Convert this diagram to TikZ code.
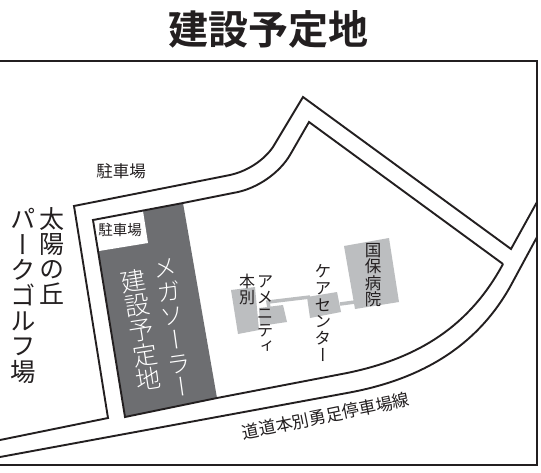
\documentclass[tikz,border=0pt]{standalone}
\usepackage{fontspec}
\newfontfamily\cjk{Noto Sans CJK JP}
\newfontfamily\cjklight{Noto Sans CJK JP Light}
\newfontfamily\cjkbold{Noto Sans CJK JP Bold}
\newfontfamily\cjkv[RawFeature=+vert]{Noto Sans CJK JP}
\newfontfamily\cjkvlight[RawFeature=+vert]{Noto Sans CJK JP Light}
\definecolor{ink}{HTML}{231F20}
\definecolor{site}{HTML}{6D6E71}
\definecolor{bldg}{HTML}{BCBEC0}
\newcommand{\fs}[1]{\fontsize{#1}{#1}\selectfont}
\tikzset{
 road/.style={draw=ink,line width=1.9pt,line join=miter},
 frameline/.style={draw=ink,line width=2.6pt},
 building/.style={fill=bldg,draw=none},
 link/.style={draw=bldg,line width=3.5pt},
 lbl/.style={inner sep=0pt,text=ink,align=center},
}
\begin{document}
\begin{tikzpicture}[x=1pt,y=-1pt]
\useasboundingbox (0,0) rectangle (541,472);
\fill[white] (0,0) rectangle (541,472);
% frame
\draw[frameline] (0,61) -- (537,61) -- (537,465) -- (0,465);
% site
\fill[site] (93,220) -- (183,203) -- (217,398) -- (125,417) -- cycle;
\fill[white] (93,220) -- (143,211) -- (148,243) -- (99,251) -- cycle;
% buildings
\fill[building] (344,246) -- (389,238) -- (399,302) -- (355,309) -- cycle;
\fill[building] (307,297) -- (337,292) -- (341,312) -- (310,318) -- cycle;
\fill[building] (231,290) -- (255,287) -- (259,330) -- (238,334) -- cycle;
\fill[building] (259,308) -- (283,305) -- (287,322) -- (260,326) -- cycle;
\draw[link] (340,304) -- (355,302);
\draw[link] (310,297) -- (268,302) -- (269,308);
% roads
\draw[road] (0,440) -- (108,418) -- (74,206) -- (230,175)
  .. controls (248,171) and (264,160) .. (273,147) -- (303,97) -- (511,249) -- (537,202);
\draw[road] (503,264) -- (309,122) -- (290,155)
  .. controls (280,172) and (258,189) .. (233,193) -- (183,203) -- (93,220) -- (125,417) -- (217,398) -- (347,373)
  .. controls (420,358) and (470,325) .. (503,264);
\draw[road] (0,457) -- (347,393)
  .. controls (430,378) and (480,340) .. (510,287) -- (537,237);
% labels
\node[lbl,font=\cjkbold\fs{40}] (title) at (268,29) {建設予定地};
\node[lbl,font=\cjk\fs{16.5}] (park1) at (121,171) {駐車場};
\node[lbl,font=\cjk\fs{14.5}] (park2) at (120,230) {駐車場};
\node[lbl,font=\cjkv\fs{25}] (taiyo) at (52,256) {太\\陽\\の\\丘};
\node[lbl,font=\cjkv\fs{25.4}] (golf) at (23,296) {パ\\ー\\ク\\ゴ\\ル\\フ\\場};
\node[lbl,text=white,rotate=9,font=\cjkvlight\fs{25}] (kensetsu) at (141,330) {建\\設\\予\\定\\地};
\node[lbl,text=white,rotate=8,font=\cjkvlight\fs{24}] (mega) at (174,328) {メ\\ガ\\ソ\\ー\\ラ\\ー};
\node[lbl,font=\cjkv\fs{16}] (honbetsu) at (247,289) {本\\別};
\node[lbl,font=\cjkv\fs{16.4}] (amenity) at (265,314) {ア\\メ\\ニ\\テ\\ィ};
\node[lbl,font=\cjkv\fs{16.7}] (care) at (323,313) {ケ\\ア\\セ\\ン\\タ\\ー};
\node[lbl,font=\cjkv\fs{16.5}] (hosp) at (373,275) {国\\保\\病\\院};
\node[lbl,rotate=11.5,font=\cjk\fs{17}] (road) at (326,416) {道道本別勇足停車場線};
\end{tikzpicture}
\end{document}
